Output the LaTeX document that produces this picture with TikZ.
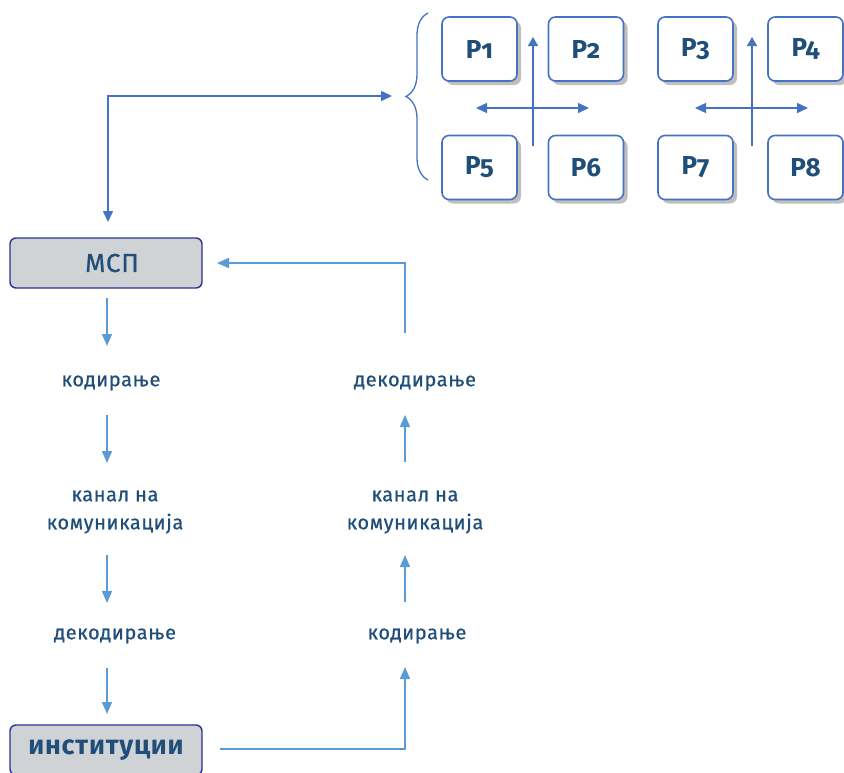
\documentclass[tikz,border=0pt]{standalone}
\usepackage{fontspec}
\setmainfont{Fira Sans}
\newfontfamily\pfont[Numbers=OldStyle]{Fira Sans}
\newfontfamily\lfont[LetterSpace=3,FakeBold=0.6]{Fira Sans}
\newfontfamily\bfont[LetterSpace=3]{Fira Sans}
\usetikzlibrary{arrows.meta,decorations.pathreplacing,shadows}
\definecolor{txt}{HTML}{1F4E79}
\definecolor{dblue}{HTML}{4472C4}
\definecolor{lblue}{HTML}{5B9BD5}
\definecolor{boxfill}{HTML}{D0D3D6}
\definecolor{navy}{HTML}{2E3192}
\tikzset{
  pbox/.style={draw=dblue,line width=1.6pt,fill=white,rounded corners=7pt,minimum width=75pt,minimum height=64pt,inner sep=0pt,
    font=\pfont\bfseries\fontsize{26}{28}\selectfont,text=txt,
    drop shadow={shadow xshift=4pt,shadow yshift=-4pt,fill=black!25,opacity=1}},
  mbox/.style={draw=navy,line width=1.4pt,fill=boxfill,rounded corners=6pt,minimum width=192pt,minimum height=50pt,inner sep=0pt,text=txt},
  lbl/.style={text=txt,font=\lfont\fontsize{20}{28}\selectfont,align=center,inner sep=1pt},
  darr/.style={draw=dblue,line width=1.5pt,-{Triangle[length=9pt,width=10pt]}},
  larr/.style={draw=lblue,line width=1.5pt,-{Triangle[length=12pt,width=10pt]}},
  lline/.style={draw=lblue,line width=1.5pt},
}
\begin{document}
\begin{tikzpicture}[x=1pt,y=-1pt]
\useasboundingbox (0,0) rectangle (844,772);
% P boxes
\node[pbox] (p1) at (479.5,49) {P1};
\node[pbox] (p2) at (586,49) {P2};
\node[pbox] (p3) at (695.5,49) {P3};
\node[pbox] (p4) at (805.5,49) {P4};
\node[pbox] (p5) at (479.5,167.5) {P5};
\node[pbox] (p6) at (586,167.5) {P6};
\node[pbox] (p7) at (695.5,167.5) {P7};
\node[pbox] (p8) at (805.5,167.5) {P8};
% cross arrows
\coordinate (v1b) at (533,146); \coordinate (v1t) at (533,37);
\coordinate (h1l) at (476,108); \coordinate (h1r) at (589,108);
\coordinate (v2b) at (752,146); \coordinate (v2t) at (752,37);
\coordinate (h2l) at (695,108); \coordinate (h2r) at (808,108);
\draw[darr] (v1b) -- (v1t);
\draw[darr,{Triangle[length=11pt,width=10pt]}-{Triangle[length=11pt,width=10pt]}] (h1l) -- (h1r);
\draw[darr] (v2b) -- (v2t);
\draw[darr,{Triangle[length=11pt,width=10pt]}-{Triangle[length=11pt,width=10pt]}] (h2l) -- (h2r);
% brace
\coordinate (brt) at (428,13); \coordinate (brb) at (428,180);
\draw[dblue,line width=1.3pt,decorate,decoration={brace,amplitude=22pt,aspect=0.5}] (brb) -- (brt);
\coordinate (brtip) at (392,96);
% main boxes
\node[mbox,font=\lfont\fontsize{26}{28}\selectfont] (msp) at (106,263) {\hspace*{12pt}МСП};
\node[mbox,font=\bfont\bfseries\fontsize{27}{28}\selectfont] (inst) at (106,750) {институции};
% connector msp <-> brace
\coordinate (c1) at (108,96);
\draw[darr,{Triangle[length=11pt,width=10pt]}-{Triangle[length=11pt,width=10pt]}] (108,222) -- (c1) -- (brtip);
% left column
\node[lbl] (l1) at (111,383) {кодирање};
\node[lbl] (l2) at (115,512) {канал на\\комуникација};
\node[lbl] (l3) at (115,636) {декодирање};
\draw[larr] (107,298) -- (107,346);
\draw[larr] (107,415) -- (107,463);
\draw[larr] (107,555) -- (107,603);
\draw[larr] (107,668) -- (107,714);
% right column
\node[lbl] (r1) at (415,383) {декодирање};
\node[lbl] (r2) at (415,512) {канал на\\комуникација};
\node[lbl] (r3) at (417,636) {кодирање};
\draw[larr] (220,749) -- (405,749) -- (405,667);
\draw[larr] (405,602) -- (405,555);
\draw[larr] (405,462) -- (405,415);
\draw[larr] (405,333) -- (405,263) -- (217,263);
\end{tikzpicture}
\end{document}
